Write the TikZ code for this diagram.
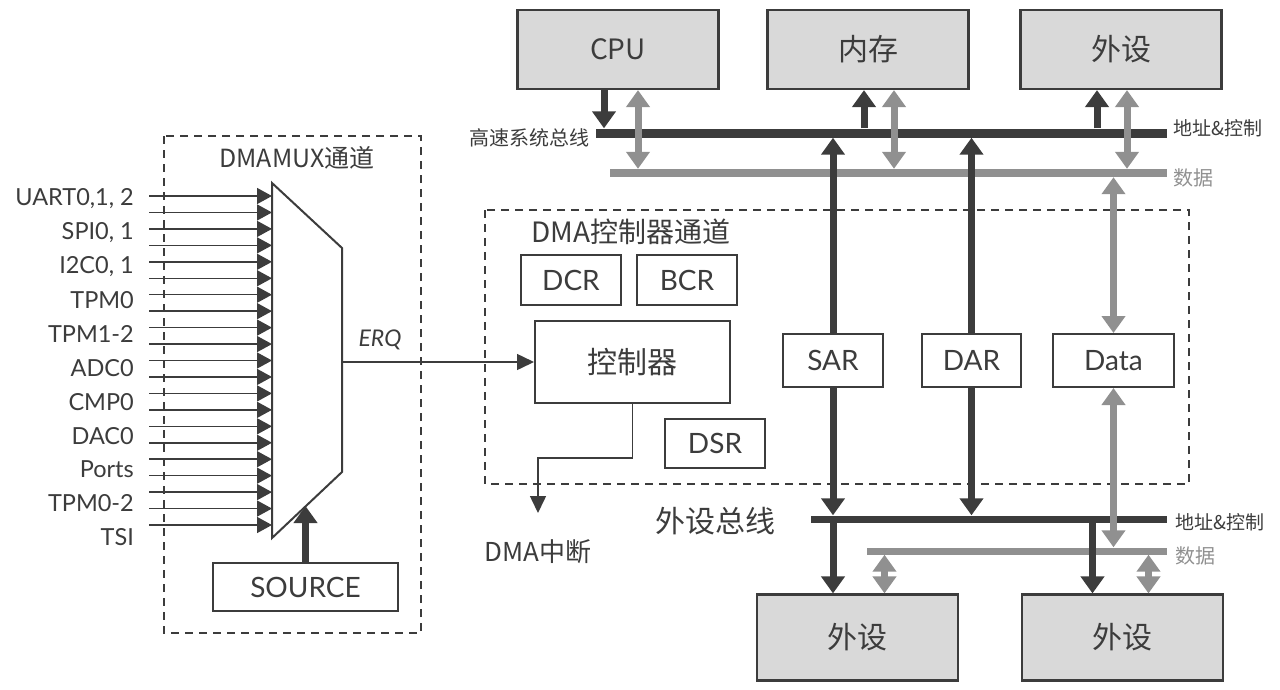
\documentclass[tikz,border=0pt]{standalone}
\usepackage{fontspec}
\setmainfont{Lato}
\newfontfamily\cjk{Noto Sans CJK SC}
\usetikzlibrary{arrows.meta,positioning}
\definecolor{inkdark}{HTML}{3C3C3C}
\definecolor{inkgray}{HTML}{909090}
\definecolor{boxfill}{HTML}{D9D9D9}
\tikzset{
  unitbox/.style={draw=inkdark, line width=2.2pt, fill=boxfill, inner sep=0pt,
    text=inkdark, minimum width=201pt, font=\cjk\fontsize{30}{36}\selectfont},
  regbox/.style={draw=inkdark, line width=2pt, fill=white, inner sep=0pt,
    text=inkdark, font=\fontsize{28}{34}\selectfont},
  abus/.style={fill=inkdark, inner sep=0pt, minimum height=#1},
  dbus/.style={fill=inkgray, inner sep=0pt, minimum height=#1},
  dashbox/.style={draw=inkdark, line width=1.8pt, dash pattern=on 8pt off 6pt},
  darr/.style={draw=inkdark, line width=7pt, -{Triangle[length=17pt,width=23pt]}},
  garr/.style={draw=inkgray, line width=7pt,
    {Triangle[length=17pt,width=23pt]}-{Triangle[length=17pt,width=23pt]}},
  thinarr/.style={draw=inkdark, line width=1.5pt, -{Triangle[length=17pt,width=16pt]}},
  inarr/.style={draw=inkdark, line width=1.5pt, -{Triangle[length=15pt,width=16pt]}},
  srclabel/.style={text=inkdark, inner sep=0pt, font=\fontsize{23.5}{26}\selectfont},
  cjklabel/.style={text=inkdark, inner sep=0pt, font=\cjk\fontsize{#1}{#1}\selectfont},
  graylabel/.style={text=inkgray, inner sep=0pt, font=\cjk\fontsize{#1}{#1}\selectfont}
}
\begin{document}
\begin{tikzpicture}[x=1pt, y=-1pt]
\useasboundingbox (0,0) rectangle (1280,689);

% DMAMUX
\draw[dashbox] (164,136) rectangle (421,633);
\node[cjklabel=25] (muxtitle) at (297,158) {DMAMUX通道};
\coordinate (muxnw) at (272,183);
\coordinate (muxsw) at (272,538);
\coordinate (muxbot) at (305.5,506);
\coordinate (erq) at (342,362);
\draw[draw=inkdark, line width=2pt, fill=white]
  (muxnw) -- (342,248) -- (342,472) -- (muxsw) -- cycle;
\foreach \i in {0,1,...,20}
  {
  \coordinate (in\i) at (149,{196+16.45*\i});
  \draw[inarr] (in\i) -- (in\i -| muxnw);
  }
\foreach \name [count=\k from 0] in {{UART0,1, 2},{SPI0, 1},{I2C0, 1},TPM0,TPM1-2,
    ADC0,CMP0,DAC0,Ports,TPM0-2,TSI}
  \node[srclabel, anchor=east] (src\k) at (134,{199+33.8*\k}) {\name};
\node[regbox, minimum width=185pt, minimum height=48pt] (source) at (305.5,587) {SOURCE};
\draw[darr] (source.north) -- (muxbot);

% DMA channel
\draw[dashbox] (485,210) rectangle (1189,484);
\node[cjklabel=28] (dmatitle) at (631,232) {DMA控制器通道};
\node[regbox, minimum width=100pt, minimum height=50pt] (dcr) at (571,280) {DCR};
\node[regbox, minimum width=100pt, minimum height=50pt] (bcr) at (687,280) {BCR};
\node[regbox, minimum width=195pt, minimum height=82pt,
  font=\cjk\fontsize{30}{36}\selectfont] (ctrl) at (632.5,362) {控制器};
\node[regbox, minimum width=100pt, minimum height=49pt] (dsr) at (715,443.5) {DSR};
\node[regbox, minimum width=100pt, minimum height=53pt] (sar) at (833,360.5) {SAR};
\node[regbox, minimum width=99pt, minimum height=53pt] (dar) at (971.5,360.5) {DAR};
\node[regbox, minimum width=121pt, minimum height=53pt] (data) at (1113.5,360.5) {Data};
\draw[thinarr] (erq) -- (ctrl.west);
\node[text=inkdark, font=\itshape\fontsize{23}{26}\selectfont] (erqlabel) at (380,340) {ERQ};
\coordinate (irqbend) at (538,458);
\coordinate (irq) at (538,513);
\draw[thinarr] (ctrl.south) |- (irqbend) -- (irq);
\node[cjklabel=26] (irqlabel) at (538,552) {DMA中断};

% system bus
\node[unitbox, minimum height=79pt, font=\cjk\fontsize{28}{32}\selectfont] (cpu) at (618,49.5) {CPU};
\node[unitbox, minimum height=79pt] (mem) at (868,49.5) {内存};
\node[unitbox, minimum height=79pt] (perT) at (1121,49.5) {外设};
\node[dbus=8pt, minimum width=557pt] (sysdb) at (888.5,173) {};
\node[abus=9pt, minimum width=571pt] (sysab) at (881.5,133) {};
\node[cjklabel=20, anchor=east] (syslabel) at (590,138) {高速系统总线};
\node[cjklabel=19, anchor=west] (sysablabel) at (1173,128) {地址\&控制};
\node[graylabel=20, anchor=west] (sysdblabel) at (1173,178) {数据};

% peripheral bus
\node[dbus=7pt, minimum width=300pt] (perdb) at (1017,551) {};
\node[abus=7pt, minimum width=356pt] (perab) at (989,519) {};
\node[cjklabel=30] (perlabel) at (715,521) {外设总线};
\node[cjklabel=19, anchor=west] (perablabel) at (1175,522) {地址\&控制};
\node[graylabel=20, anchor=west] (perdblabel) at (1175,556) {数据};
\node[unitbox, minimum height=86pt] (perL) at (857.5,637.5) {外设};
\node[unitbox, minimum height=86pt] (perR) at (1122.5,637.5) {外设};

% dark connectors
\draw[darr] ([xshift=-14pt]cpu.south) -- ([xshift=-14pt]cpu.south |- sysab.north);
\draw[darr] ([xshift=-4pt]mem.south |- sysab.north) -- ([xshift=-4pt]mem.south);
\draw[darr] ([xshift=-24pt]perT.south |- sysab.north) -- ([xshift=-24pt]perT.south);
\draw[darr] (sar.north) -- (sar.north |- sysab.south);
\draw[darr] (dar.north) -- (dar.north |- sysab.south);
\draw[darr] (sar.south) -- (sar.south |- perab.north);
\draw[darr] (dar.south) -- (dar.south |- perab.north);
\draw[darr] (sar.south |- perab.south) -- (sar.south |- perL.north);
\draw[darr] ([xshift=-30pt]perR.north |- perab.south) -- ([xshift=-30pt]perR.north);

% gray connectors
\draw[garr] ([xshift=20pt]cpu.south) -- ([xshift=20pt]cpu.south |- sysdb.north);
\draw[garr] ([xshift=26pt]mem.south) -- ([xshift=26pt]mem.south |- sysdb.north);
\draw[garr] ([xshift=6pt]perT.south) -- ([xshift=6pt]perT.south |- sysdb.north);
\draw[garr] (data.north) -- (data.north |- sysdb.south);
\draw[garr] (data.south) -- (data.south |- perdb.north);
\draw[garr] ([xshift=27pt]perL.north |- perdb.south) -- ([xshift=27pt]perL.north);
\draw[garr] ([xshift=26pt]perR.north |- perdb.south) -- ([xshift=26pt]perR.north);
\end{tikzpicture}
\end{document}
